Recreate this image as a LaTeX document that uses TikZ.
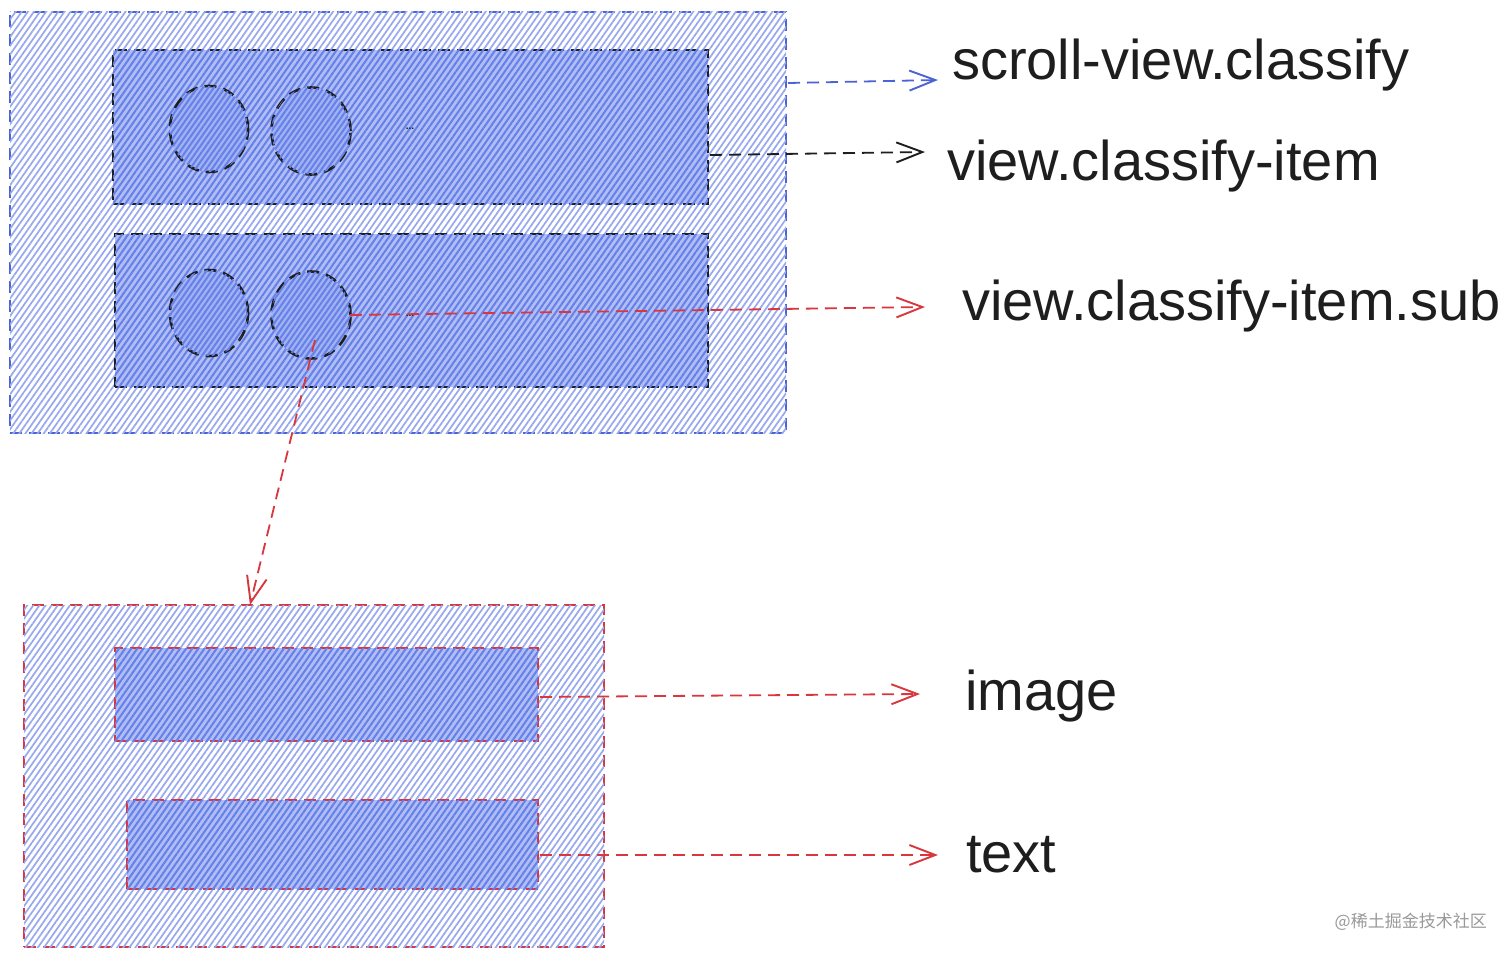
\documentclass[tikz,border=0pt]{standalone}
\usepackage{fontspec}
\setmainfont{Liberation Sans}
\newfontfamily\cjkfont{Noto Sans CJK SC}
\usetikzlibrary{arrows.meta,patterns.meta,calc,shapes.geometric}
\definecolor{bluestroke}{HTML}{4C63D6}
\definecolor{redstroke}{HTML}{D9363E}
\definecolor{ink}{HTML}{1E1E1E}
\definecolor{hatchlight}{HTML}{97A8EE}
\definecolor{hatchdark}{HTML}{6580E8}
\definecolor{fillmid}{HTML}{B0BEF5}
\tikzset{
  dashline/.style={line width=2.6pt, dash pattern=on 12pt off 7pt},
  outerhatch/.style={inner sep=0pt, outer sep=0pt, anchor=north west, dashline, fill=white,
    postaction={pattern={Lines[angle=55,distance=5pt,line width=1.7pt]}, pattern color=hatchlight}},
  innerhatch/.style={inner sep=0pt, outer sep=0pt, anchor=north west, dashline, fill=fillmid,
    postaction={pattern={Lines[angle=55,distance=5pt,line width=2pt]}, pattern color=hatchdark}},
  ring/.style={ellipse, inner sep=0pt, outer sep=0pt, draw=ink, dashline, fill=fillmid!80!hatchdark,
    postaction={pattern={Lines[angle=55,distance=4.5pt,line width=2pt]}, pattern color=hatchdark}},
  conn/.style={line width=1.8pt, dash pattern=on 12pt off 7pt, -{Straight Barb[length=26pt,width=20pt,line width=1.9pt]}},
  label/.style={anchor=base west, inner sep=0pt, font=\fontsize{56}{60}\selectfont, text=ink},
  dots/.style={inner sep=0pt, font=\fontsize{10}{11}\selectfont\bfseries, text=ink},
}
\begin{document}
\begin{tikzpicture}[x=1pt,y=-1pt]
\useasboundingbox (0,0) rectangle (1512,958);
\fill[white] (0,0) rectangle (1512,958);
% top group
\node[outerhatch, draw=bluestroke, minimum width=776pt, minimum height=421pt] (outer) at (10,12) {};
\node[innerhatch, draw=ink, minimum width=595pt, minimum height=154pt] (item1) at (113,50) {};
\node[innerhatch, draw=ink, minimum width=593pt, minimum height=153pt] (item2) at (115,234) {};
\node[ring, minimum width=78pt, minimum height=86pt] (c1) at (209,129) {};
\node[ring, minimum width=79pt, minimum height=87pt] (c2) at (311,131) {};
\node[ring, minimum width=78pt, minimum height=86pt] (c3) at (209,313) {};
\node[ring, minimum width=79pt, minimum height=87pt] (c4) at (311,315) {};
\node[dots] (d1) at (410,129) {...};
\node[dots] (d2) at (410,316) {...};
% bottom group
\node[outerhatch, draw=redstroke, minimum width=580pt, minimum height=342pt] (sub) at (24,605) {};
\node[innerhatch, draw=redstroke, minimum width=423pt, minimum height=93pt] (img) at (115,648) {};
\node[innerhatch, draw=redstroke, minimum width=411pt, minimum height=89pt] (txt) at (127,800) {};
% labels
\node[label] (t1) at (952,80) {scroll-view.classify};
\node[label] (t2) at (947,180) {view.classify-item};
\node[label] (t3) at (962,320) {view.classify-item.sub};
\node[label] (t4) at (965,710) {image};
\node[label] (t5) at (966,872) {text};
\node[anchor=east, inner sep=0pt, font=\cjkfont\fontsize{17}{18}\selectfont, text=black!40] (wm) at (1487,922) {@稀土掘金技术社区};
% connectors
\coordinate (e1) at (938,80);
\coordinate (e2) at (925,152);
\coordinate (e3) at (925,307);
\coordinate (e4) at (920,694);
\coordinate (e5) at (938,855);
\coordinate (s1) at (788,83);
\coordinate (s2) at (710,155);
\coordinate (s3) at (350,315);
\coordinate (s4) at (540,697);
\coordinate (s5) at (540,855);
\draw[conn, draw=bluestroke] (s1) -- (e1);
\draw[conn, draw=ink] (s2) -- (e2);
\draw[conn, draw=redstroke] (s3) -- (e3);
\draw[conn, draw=redstroke] (s4) -- (e4);
\draw[conn, draw=redstroke] (s5) -- (e5);
\draw[conn, draw=redstroke] ([shift={(4,25)}]c4.center) -- (sub.north -| 250,0);
\end{tikzpicture}
\end{document}
